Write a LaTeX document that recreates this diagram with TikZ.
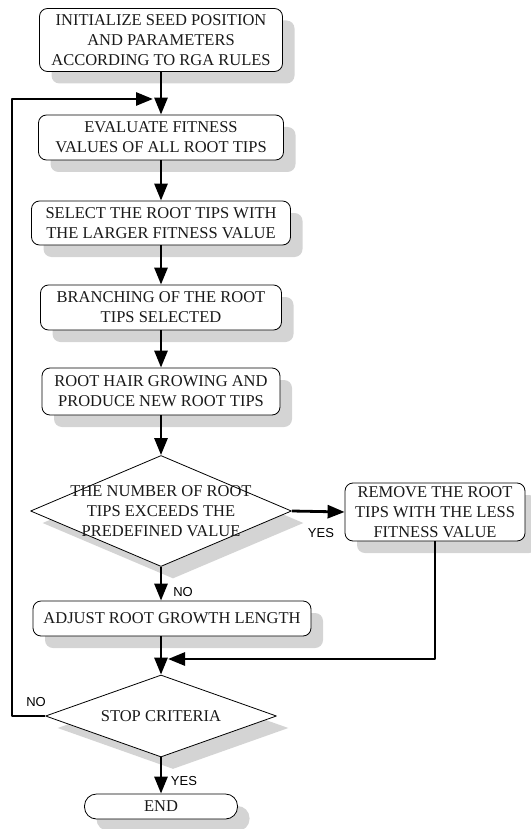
\documentclass[tikz,border=0pt]{standalone}
\usepackage{fontspec}
\setmainfont{Liberation Serif}
\newfontfamily\labfont{Liberation Sans}
\usetikzlibrary{shapes.geometric,shadows,arrows.meta}

\begin{document}
\begin{tikzpicture}[x=1pt,y=-1pt,line cap=round,line join=round,
  shade/.style={drop shadow={shadow xshift=12pt,shadow yshift=-12pt,fill=black!17,opacity=1}},
  box/.style={draw,line width=0.8pt,rounded corners=8pt,fill=white,align=center,inner sep=0pt,
    font=\fontsize{16.5}{20}\selectfont,text=black!90,shade},
  decision/.style={draw,line width=0.8pt,diamond,fill=white,inner sep=0pt,shade},
  txt/.style={align=center,font=\fontsize{16.5}{20}\selectfont,text=black!90},
  lab/.style={font=\labfont\fontsize{13}{13}\selectfont},
  flow/.style={line width=2.8pt,line cap=butt,-{Triangle[length=17pt,width=13pt]}}]
\useasboundingbox (0,0) rectangle (530,829);

\node[box,minimum width=243pt,minimum height=63pt] (init) at (161,40)
  {INITIALIZE SEED POSITION\\AND PARAMETERS\\ACCORDING TO RGA RULES};
\node[box,minimum width=245pt,minimum height=45pt] (eval) at (161,137.5)
  {EVALUATE FITNESS\\VALUES OF ALL ROOT TIPS};
\node[box,minimum width=259pt,minimum height=44pt] (select) at (161,223)
  {SELECT THE ROOT TIPS WITH\\THE LARGER FITNESS VALUE};
\node[box,minimum width=241pt,minimum height=45pt] (branch) at (161,307.5)
  {BRANCHING OF THE ROOT\\TIPS SELECTED};
\node[box,minimum width=238pt,minimum height=47pt] (hair) at (161,391.5)
  {ROOT HAIR GROWING AND\\PRODUCE NEW ROOT TIPS};
\node[decision,minimum width=261pt,minimum height=111pt] (d1) at (161,511) {};
\node[txt] (d1txt) at (d1.center) {THE NUMBER OF ROOT\\TIPS EXCEEDS THE\\PREDEFINED VALUE};
\node[box,minimum width=180pt,minimum height=58pt] (remove) at (435,512)
  {REMOVE THE ROOT\\TIPS WITH THE LESS\\FITNESS VALUE};
\node[box,minimum width=278pt,minimum height=35pt] (adjust) at (172,618.5)
  {ADJUST ROOT GROWTH LENGTH};
\node[decision,minimum width=231pt,minimum height=82pt] (stop) at (161,716) {};
\node[txt] (stoptxt) at (stop.center) {STOP CRITERIA};
\node[box,rounded corners=12pt,minimum width=153pt,minimum height=25pt] (end) at (161,806.5) {END};

\coordinate (j1) at (161,99);
\coordinate (j2) at (161,659);
\coordinate (loop) at (12,99);

\draw[flow] (init.south) -- (eval.north);
\draw[flow] (eval.south) -- (select.north);
\draw[flow] (select.south) -- (branch.north);
\draw[flow] (branch.south) -- (hair.north);
\draw[flow] (hair.south) -- (d1.north);
\draw[flow] (d1.east) -- (remove.west);
\draw[flow] (d1.south) -- (d1.south |- adjust.north);
\draw[flow] (stop.north |- adjust.south) -- (stop.north);
\draw[flow] (remove.south) |- ([xshift=7pt]j2);
\draw[flow] (stop.west) -| (loop) -- ([xshift=-8pt]j1);
\draw[flow] (stop.south) -- (end.north);

\node[lab] (yes1) at (321,533) {YES};
\node[lab] (no1) at (183,592) {NO};
\node[lab] (no2) at (36,702) {NO};
\node[lab] (yes2) at (184,781) {YES};
\end{tikzpicture}
\end{document}
